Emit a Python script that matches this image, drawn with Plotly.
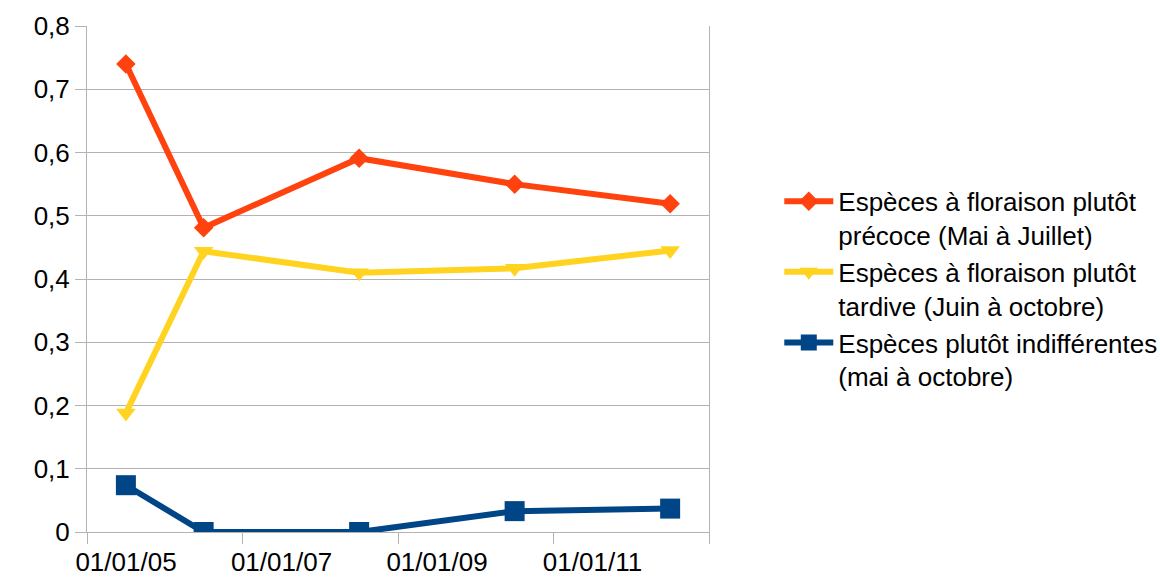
import plotly.graph_objects as go

# Survey years (points sit between the yearly tick marks)
years = [2005, 2006, 2008, 2010, 2012]

precoce = [0.740, 0.481, 0.591, 0.550, 0.519]
tardive = [0.188, 0.444, 0.410, 0.417, 0.445]
indifferentes = [0.074, 0.0, 0.0, 0.033, 0.037]

series_names = [
    "Espèces à floraison plutôt<br>précoce (Mai à Juillet)",
    "Espèces à floraison plutôt<br>tardive (Juin à octobre)",
    "Espèces plutôt indifférentes<br>(mai à octobre)",
]

tick_years = [2005, 2007, 2009, 2011, 2013]
tick_labels = ["01/01/05", "01/01/07", "01/01/09", "01/01/11", ""]

# Each year's value is centred in its one-year slot
x_pos = [y + 0.5 for y in years]

FONT = "Liberation Sans, Arial, sans-serif"
GRID = "#b3b3b3"
FS = 26

fig = go.Figure()
fig.add_trace(go.Scatter(
    x=x_pos, y=precoce, name=series_names[0], mode="lines+markers",
    line=dict(color="#ff420e", width=6),
    marker=dict(symbol="diamond", size=15, color="#ff420e"),
))
fig.add_trace(go.Scatter(
    x=x_pos, y=tardive, name=series_names[1], mode="lines+markers",
    line=dict(color="#ffd320", width=6),
    marker=dict(symbol="triangle-down", size=17, color="#ffd320"),
))
fig.add_trace(go.Scatter(
    x=x_pos, y=indifferentes, name=series_names[2], mode="lines+markers",
    line=dict(color="#004586", width=6),
    marker=dict(symbol="square", size=20, color="#004586"),
))

fig.update_layout(
    width=1160, height=578,
    margin=dict(l=87, r=451, t=26, b=46, autoexpand=False),
    paper_bgcolor="white", plot_bgcolor="white",
    font=dict(family=FONT, size=FS, color="black"),
    separators=", ",
    showlegend=True,
    legend=dict(
        x=1.113, xanchor="left", y=0.70, yanchor="top",
        font=dict(size=FS), valign="top", itemwidth=49,
        bgcolor="rgba(0,0,0,0)", tracegroupgap=0,
    ),
)

fig.update_xaxes(
    range=[2005, 2013], automargin=False,
    tickmode="array", tickvals=tick_years, ticktext=tick_labels,
    ticklabelshift=39, ticklabelstandoff=-4,
    ticks="outside", ticklen=11, tickcolor=GRID, tickwidth=1,
    showgrid=False, zeroline=False,
    showline=True, linecolor=GRID, linewidth=1,
    tickfont=dict(size=FS),
)
fig.update_yaxes(
    range=[0, 0.8], dtick=0.1, automargin=False,
    ticks="outside", ticklen=11, tickcolor=GRID, tickwidth=1,
    showgrid=True, gridcolor=GRID, gridwidth=1,
    zeroline=False,
    showline=True, linecolor=GRID, linewidth=1, mirror=True,
    tickfont=dict(size=FS),
)

fig.write_html("out.html")
